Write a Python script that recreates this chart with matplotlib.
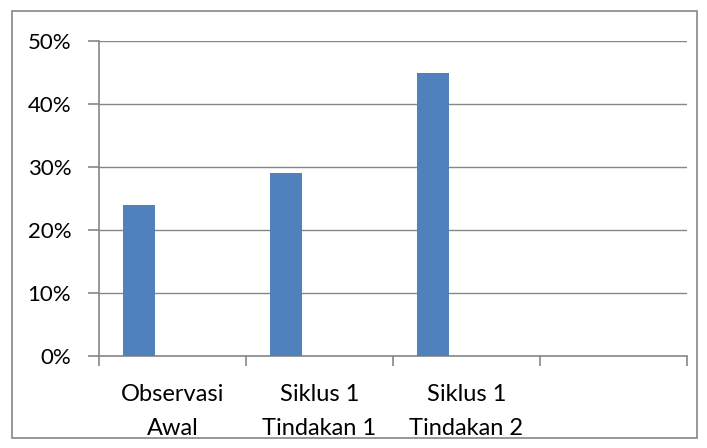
import matplotlib
matplotlib.use("Agg")
import matplotlib.pyplot as plt
from matplotlib.patches import Rectangle
from matplotlib.ticker import FixedLocator, PercentFormatter
import numpy as np

categories = ["Observasi\nAwal", "Siklus 1\nTindakan 1", "Siklus 1\nTindakan 2", ""]
values = [24, 29, 45, None]
yticks = [0, 10, 20, 30, 40, 50]

plt.rcParams['font.family'] = ['Lato', 'DejaVu Sans']

fig = plt.figure(figsize=(7.07, 4.48), dpi=100)
W, H = 707, 448
ax = fig.add_axes([99 / W, 1 - 356 / H, (687 - 99) / W, (356 - 41) / H])

grid_c = "#868686"
bar_c = "#4F81BD"

x = np.arange(len(categories))
offset = -0.2265
width = 0.22
for xi, v in zip(x, values):
    if v is not None:
        ax.bar(xi + offset, v, width=width, color=bar_c, zorder=3)

ax.set_xlim(-0.5, len(categories) - 0.5)
ax.set_ylim(0, 50)
ax.yaxis.set_major_locator(FixedLocator(yticks))
ax.yaxis.set_major_formatter(PercentFormatter(decimals=0))
ax.grid(axis='y', color=grid_c, linewidth=1.0, zorder=0)

# category boundary ticks on x
ax.set_xticks(np.arange(-0.5, len(categories), 1.0))
ax.set_xticklabels([])
ax.set_xticks(x, minor=True)
ax.set_xticklabels(categories, minor=True, fontsize=17, linespacing=1.8)
ax.tick_params(axis='x', which='minor', length=0, pad=20)
ax.tick_params(axis='x', which='major', length=7, width=1.2, color=grid_c, direction='out')
ax.tick_params(axis='y', length=8, width=1.2, color=grid_c, direction='out', labelsize=16, pad=12)

for s in ['top', 'right']:
    ax.spines[s].set_visible(False)
for s in ['left', 'bottom']:
    ax.spines[s].set_color(grid_c)
    ax.spines[s].set_linewidth(1.2)

# outer chart border
fig.patches.append(Rectangle((11.5 / W, 1 - 437.5 / H), (697 - 11.5) / W, (437.5 - 11.5) / H,
                             transform=fig.transFigure, fill=False, edgecolor=grid_c, linewidth=1.2))

fig.savefig("out.png", dpi=100)
